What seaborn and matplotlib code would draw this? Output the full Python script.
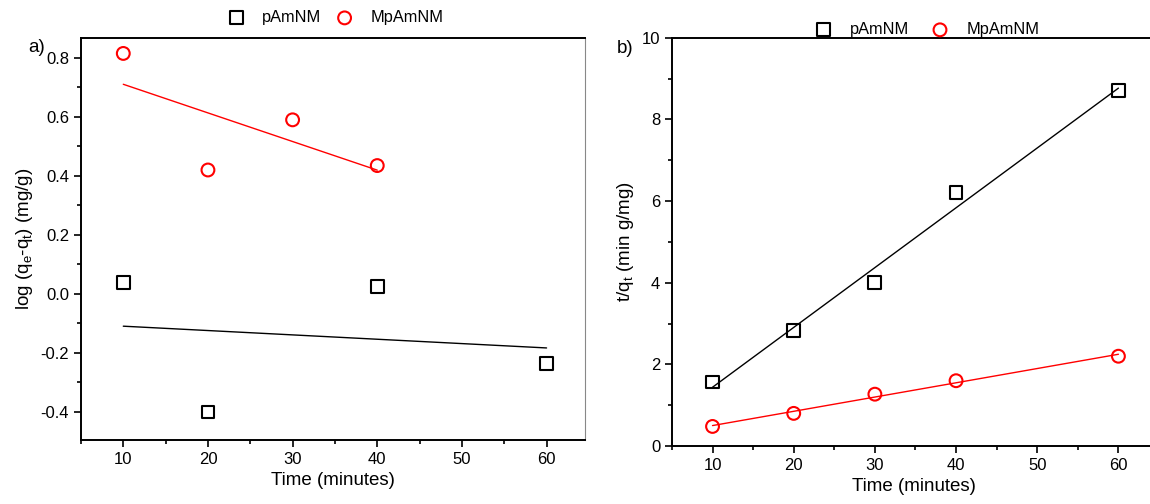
import pandas as pd
import matplotlib.pyplot as plt
import seaborn as sns
from matplotlib.ticker import MultipleLocator

# a) pseudo-first-order data
time_a_p = [10, 20, 40, 60]
logq_p = [0.04, -0.40, 0.025, -0.235]
time_a_m = [10, 20, 30, 40]
logq_m = [0.815, 0.42, 0.59, 0.435]

# b) pseudo-second-order data
time_b = [10, 20, 30, 40, 60]
tq_p = [1.57, 2.83, 4.00, 6.22, 8.70]
tq_m = [0.48, 0.80, 1.27, 1.60, 2.20]

series_names = ['pAmNM', 'MpAmNM']
colors = ['black', 'red']
markers = ['s', 'o']

sns.set_theme(style="ticks")
plt.rcParams['font.family'] = ['Liberation Sans', 'DejaVu Sans']
plt.rcParams['mathtext.fontset'] = 'custom'
plt.rcParams['mathtext.rm'] = 'Liberation Sans'
plt.rcParams['mathtext.it'] = 'Liberation Sans'
for k in ['text.color', 'axes.labelcolor', 'xtick.color', 'ytick.color']:
    plt.rcParams[k] = 'black'

fig = plt.figure(figsize=(11.5, 5.04), dpi=100)
ax1 = fig.add_axes([0.0704, 0.127, 0.438, 0.798])
ax2 = fig.add_axes([0.5843, 0.115, 0.42, 0.810])

panels = [
    (ax1, [(time_a_p, logq_p), (time_a_m, logq_m)]),
    (ax2, [(time_b, tq_p), (time_b, tq_m)]),
]

for ax, data in panels:
    for (x, y), name, c, m in zip(data, series_names, colors, markers):
        df = pd.DataFrame({'t': x, 'v': y})
        sns.regplot(x='t', y='v', data=df, ax=ax, scatter=False, ci=None,
                    color=c, line_kws={'lw': 1.0})
        sns.scatterplot(x='t', y='v', data=df, ax=ax, marker=m, s=85,
                        facecolor='none', edgecolor=c, linewidth=1.5,
                        label=name, zorder=3)
    ax.set_xlim(5, 64.5)
    ax.xaxis.set_major_locator(MultipleLocator(10))
    ax.xaxis.set_minor_locator(MultipleLocator(5))
    ax.set_xlabel('Time (minutes)', fontsize=13.5)
    ax.tick_params(axis='both', which='major', direction='out', length=5,
                   width=1.2, labelsize=12)
    ax.tick_params(axis='both', which='minor', direction='out', length=3,
                   width=1.2)
    ax.tick_params(top=False, right=False, which='both')
    for sp in ['left', 'bottom', 'top']:
        ax.spines[sp].set_linewidth(1.4)
        ax.spines[sp].set_color('black')
    ax.spines['right'].set_linewidth(0.8)
    ax.spines['right'].set_color('#888888')

ax1.legend(loc='center', bbox_to_anchor=(0.498, 1.05), ncol=2,
           frameon=False, fontsize=11.8, handletextpad=0.6,
           columnspacing=0.4, borderaxespad=0.0)
ax2.legend(loc='center', bbox_to_anchor=(0.52, 1.02), ncol=2,
           frameon=False, fontsize=11.8, handletextpad=0.6,
           columnspacing=0.9, borderaxespad=0.0)

ax1.set_ylim(-0.495, 0.868)
ax1.yaxis.set_major_locator(MultipleLocator(0.2))
ax1.yaxis.set_minor_locator(MultipleLocator(0.1))
ax1.yaxis.set_major_formatter(plt.FuncFormatter(lambda v, p: f'{v:.1f}'))
ax1.set_ylabel('log (q$_e$-q$_t$) (mg/g)', fontsize=13.5)
ax1.text(-0.105, 0.975, 'a)', transform=ax1.transAxes, fontsize=13.5,
         ha='left', va='center')

ax2.set_ylim(0, 10)
ax2.yaxis.set_major_locator(MultipleLocator(2))
ax2.yaxis.set_minor_locator(MultipleLocator(1))
ax2.set_ylabel('t/q$_t$ (min g/mg)', fontsize=13.5)
ax2.text(-0.115, 0.975, 'b)', transform=ax2.transAxes, fontsize=13.5,
         ha='left', va='center')

fig.savefig('out.png', dpi=100)
